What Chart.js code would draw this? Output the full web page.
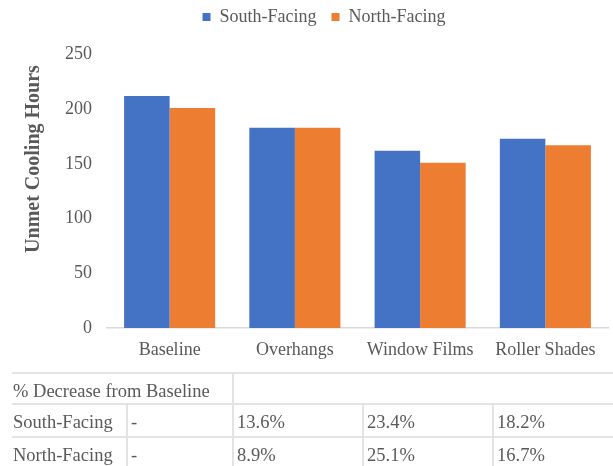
<!DOCTYPE html>
<html><head><meta charset="utf-8">
<script src="https://cdn.jsdelivr.net/npm/chart.js@4"></script>
<style>
html,body{margin:0;padding:0;background:#fff;}
#wrap{position:relative;width:613px;height:466px;overflow:hidden;font-family:"Liberation Serif","Times New Roman",serif;color:#595959;}
#chartBox{position:absolute;left:0;top:0;width:613px;height:383px;}
.hl{position:absolute;height:2px;background:#e3e3e3;}
.vl{position:absolute;width:2px;background:#e3e3e3;}
.cell{position:absolute;font-size:18.5px;height:32px;line-height:32px;white-space:nowrap;color:#595959;}
</style></head>
<body>
<div id="wrap">
  <div id="chartBox"><canvas id="c" width="613" height="383"></canvas></div>
  <div id="tbl"></div>
</div>
<script>
// ---- data ----
const categories = ["Baseline", "Overhangs", "Window Films", "Roller Shades"];
const seriesNames = ["South-Facing", "North-Facing"];
const southValues = [212, 183, 162, 173];
const northValues = [201, 183, 151, 167];
const yTickValues = [0, 50, 100, 150, 200, 250];
const yAxisTitle = "Unmet Cooling Hours";
const tableTitle = "% Decrease from Baseline";
const southDecrease = ["-", "13.6%", "23.4%", "18.2%"];
const northDecrease = ["-", "8.9%", "25.1%", "16.7%"];

const FONT = '"Liberation Serif","Times New Roman",serif';
const GRAY = '#595959';

const yTitlePlugin = {
  id: 'yTitle',
  afterDraw(chart) {
    const ctx = chart.ctx;
    ctx.save();
    ctx.font = 'bold 20px ' + FONT;
    ctx.fillStyle = GRAY;
    ctx.textAlign = 'center';
    ctx.textBaseline = 'middle';
    ctx.translate(34, 159);
    ctx.rotate(-Math.PI / 2);
    ctx.fillText(yAxisTitle, 0, 0);
    ctx.restore();
  }
};

const legendPatch = {
  id: 'legendPatch',
  beforeLayout(chart) {
    const lg = chart.legend;
    if (lg && !lg._patched) {
      const of = lg.fit;
      lg.fit = function () { of.call(this); this.height = 54.5; };
      lg._patched = true;
    }
  },
  afterLayout(chart) {
    const lg = chart.legend;
    if (lg) { lg.left += 20; lg.right += 20; lg.top -= 7; }
  }
};

new Chart(document.getElementById('c'), {
  type: 'bar',
  data: {
    labels: categories,
    datasets: [
      { label: seriesNames[0], data: southValues, backgroundColor: '#4472C4', borderWidth: 0 },
      { label: seriesNames[1], data: northValues, backgroundColor: '#ED7D31', borderWidth: 0 }
    ]
  },
  options: {
    responsive: false,
    animation: false,
    devicePixelRatio: 1,
    layout: { padding: { left: 0, right: 5, top: 0, bottom: 9.5 } },
    datasets: { bar: { categoryPercentage: 0.727, barPercentage: 1.0 } },
    plugins: {
      legend: {
        position: 'top',
        labels: { boxWidth: 8, boxHeight: 8, padding: 15, color: GRAY, font: { family: FONT, size: 18 } }
      },
      tooltip: { enabled: false }
    },
    scales: {
      x: {
        grid: { display: false, drawTicks: false },
        border: { display: true, color: '#d9d9d9', width: 1.5 },
        ticks: { color: GRAY, font: { family: FONT, size: 18 }, padding: 12, maxRotation: 0, autoSkip: false }
      },
      y: {
        min: 0, max: 250,
        afterBuildTicks(scale) { scale.ticks = yTickValues.map(v => ({ value: v })); },
        afterFit(scale) { scale.width = 107; },
        grid: { display: false, drawTicks: false },
        border: { display: false },
        ticks: { color: GRAY, font: { family: FONT, size: 18 }, padding: 15 }
      }
    }
  },
  plugins: [yTitlePlugin, legendPatch]
});

// ---- table below chart ----
const tbl = document.getElementById('tbl');
const colX = [12, 127, 233, 363, 493, 613];
const rowY = [373, 404, 437, 466];
function add(cls, style, text) {
  const d = document.createElement('div');
  d.className = cls;
  Object.assign(d.style, style);
  if (text !== undefined) d.textContent = text;
  tbl.appendChild(d);
}
for (let i = 0; i < 3; i++) add('hl', { left: colX[0] + 'px', top: (rowY[i] - 1) + 'px', width: (613 - colX[0]) + 'px' });
add('vl', { left: (colX[2] - 1) + 'px', top: rowY[0] + 'px', height: (466 - rowY[0]) + 'px' });
[1, 3, 4].forEach(c => add('vl', { left: (colX[c] - 1) + 'px', top: rowY[1] + 'px', height: (466 - rowY[1]) + 'px' }));
add('cell', { left: (colX[0] + 1) + 'px', top: (rowY[0] + 2) + 'px' }, tableTitle);
const rows = [[seriesNames[0]].concat(southDecrease), [seriesNames[1]].concat(northDecrease)];
rows.forEach((r, ri) => {
  r.forEach((t, ci) => {
    add('cell', { left: (colX[ci] + (ci === 0 ? 1 : 4)) + 'px', top: (rowY[ri + 1] + 2) + 'px' }, t);
  });
});
</script>
</body></html>
